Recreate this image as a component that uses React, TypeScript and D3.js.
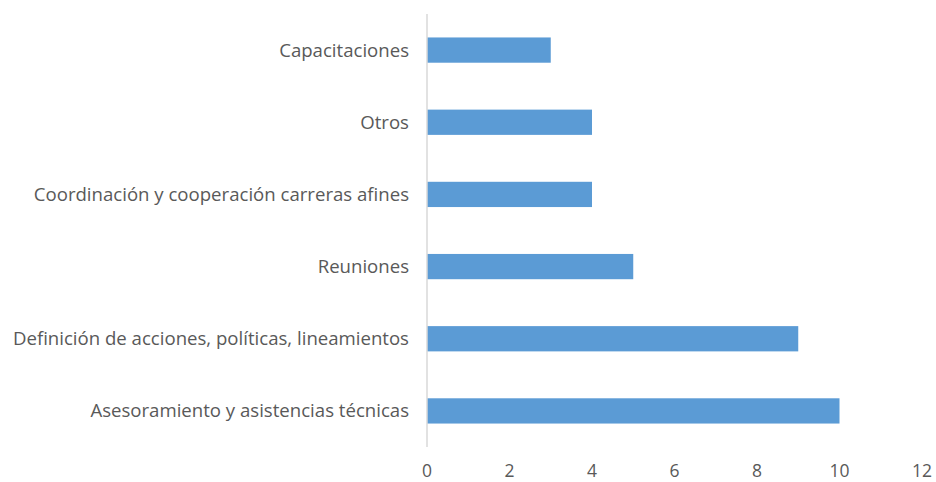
import * as d3 from "d3";

const categories = [
  "Capacitaciones",
  "Otros",
  "Coordinación y cooperación carreras afines",
  "Reuniones",
  "Definición de acciones, políticas, lineamientos",
  "Asesoramiento y asistencias técnicas",
];
const values = [3, 4, 4, 5, 9, 10];
const xTicks = [0, 2, 4, 6, 8, 10, 12];

const WIDTH = 936;
const HEIGHT = 482;
const MARGIN = { left: 427, top: 14, right: 14, bottom: 35 };
const FONT = "'Open Sans', sans-serif";
const TEXT_COLOR = "#595959";

export default function App() {
  const boundsWidth = WIDTH - MARGIN.left - MARGIN.right;
  const boundsHeight = HEIGHT - MARGIN.top - MARGIN.bottom;

  const xScale = d3.scaleLinear().domain([0, 12]).range([0, boundsWidth]);
  const yScale = d3
    .scaleBand<string>()
    .domain(categories)
    .range([0, boundsHeight])
    .paddingInner(0.65)
    .paddingOuter(0.325);

  return (
    <svg
      width={WIDTH}
      height={HEIGHT}
      style={{ position: "absolute", left: 0, top: 0, background: "#fff" }}
    >
      <g transform={`translate(${MARGIN.left},${MARGIN.top})`}>
        {categories.map((c, i) => {
          const y = yScale(c) ?? 0;
          return (
            <g key={c}>
              <rect
                x={xScale(0)}
                y={y}
                width={xScale(values[i]) - xScale(0)}
                height={yScale.bandwidth()}
                fill="#5B9BD5"
              />
              <text
                x={-18}
                y={y + yScale.bandwidth() / 2}
                dy="0.35em"
                textAnchor="end"
                fontFamily={FONT}
                fontSize={18.6}
                fill={TEXT_COLOR}
              >
                {c}
              </text>
            </g>
          );
        })}
        <line
          x1={xScale(0)}
          x2={xScale(0)}
          y1={0}
          y2={boundsHeight}
          stroke="#D9D9D9"
          strokeWidth={1.5}
        />
        {xTicks.map((t) => (
          <text
            key={t}
            x={xScale(t)}
            y={boundsHeight + 30}
            textAnchor="middle"
            fontFamily={FONT}
            fontSize={17.5}
            fill={TEXT_COLOR}
          >
            {t}
          </text>
        ))}
      </g>
    </svg>
  );
}
